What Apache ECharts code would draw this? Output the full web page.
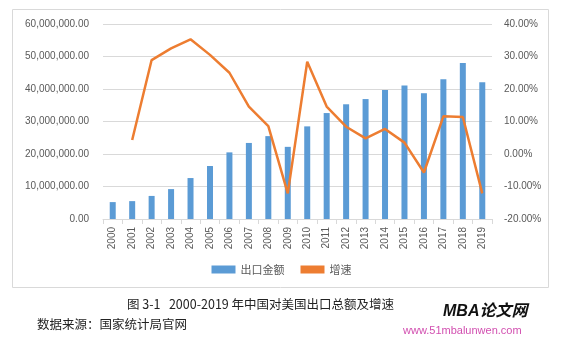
<!DOCTYPE html>
<html><head><meta charset="utf-8">
<script src="https://cdn.jsdelivr.net/npm/echarts@6/dist/echarts.min.js"></script>
<style>html,body{margin:0;padding:0;background:#fff}#c{width:563px;height:342px}</style>
</head><body><div id="c"></div>
<script>
const years = ['2000','2001','2002','2003','2004','2005','2006','2007','2008','2009','2010','2011','2012','2013','2014','2015','2016','2017','2018','2019'];
const exportAmount = [5.2e6,5.5e6,7.1e6,9.2e6,12.6e6,16.3e6,20.5e6,23.4e6,25.5e6,22.2e6,28.5e6,32.6e6,35.3e6,36.9e6,39.7e6,41.1e6,38.7e6,43.0e6,48.0e6,42.1e6];
const growthRate = [null,4.3,28.9,32.5,35.3,30.5,25.0,14.6,8.6,-12.1,28.4,14.6,8.4,4.8,7.7,3.5,-5.7,11.6,11.4,-12.1];
const seriesNames = ['出口金额','增速'];
const caption = '图 3-1   2000-2019 年中国对美国出口总额及增速';
const source = '数据来源：国家统计局官网';

const chart = echarts.init(document.getElementById('c'));
const fmtNum = v => v.toLocaleString('en-US',{minimumFractionDigits:2,maximumFractionDigits:2});
const axisTxt = {color:'#595959',fontSize:10,fontFamily:'Arial, Liberation Sans, sans-serif'};
chart.setOption({
  animation:false,
  grid:{left:103,right:71,top:24,bottom:123},
  legend:{
    bottom:62,left:'center',itemGap:16,itemWidth:24,itemHeight:8,
    textStyle:{color:'#595959',fontSize:11,fontFamily:'Noto Sans CJK SC'},
    data:[{name:seriesNames[0],icon:'rect'},{name:seriesNames[1],icon:'rect',itemStyle:{color:'#ED7D31'}}]
  },
  xAxis:{type:'category',data:years,
    axisLine:{lineStyle:{color:'#d9d9d9'}},
    axisTick:{show:true,lineStyle:{color:'#d9d9d9'},length:5},
    axisLabel:Object.assign({rotate:90,margin:8},axisTxt)},
  yAxis:[
    {type:'value',min:0,max:60e6,interval:10e6,
     axisLabel:Object.assign({formatter:fmtNum,margin:14},axisTxt),
     splitLine:{lineStyle:{color:'#d9d9d9',width:1}},axisLine:{show:false},axisTick:{show:false}},
    {type:'value',min:-20,max:40,interval:10,
     axisLabel:Object.assign({formatter:v=>v.toFixed(2)+'%',margin:12},axisTxt),
     splitLine:{show:false},axisLine:{show:false},axisTick:{show:false}}
  ],
  series:[
    {name:seriesNames[0],type:'bar',data:exportAmount,barWidth:6,itemStyle:{color:'#5B9BD5'}},
    {name:seriesNames[1],type:'line',yAxisIndex:1,data:growthRate,symbol:'none',
     lineStyle:{color:'#ED7D31',width:2.5},itemStyle:{color:'#ED7D31'},connectNulls:false}
  ],
  graphic:[
    {type:'rect',shape:{x:12.5,y:9.5,width:536,height:278},style:{fill:'none',stroke:'#d9d9d9',lineWidth:1},z:-1},
    {type:'text',left:127,top:298,style:{text:caption,fill:'#222',font:'12.5px "Noto Sans CJK SC"'}},
    {type:'text',left:37,top:318,style:{text:source,fill:'#222',font:'12.5px "Noto Sans CJK SC"'}},
    {type:'text',left:443,top:304,style:{text:'MBA论文网',fill:'#111',font:'italic bold 16px "Liberation Sans", "Noto Sans CJK SC"'}},
    {type:'text',left:403,top:325,style:{text:'www.51mbalunwen.com',fill:'#d24fb0',font:'11px "Liberation Sans"'}}
  ]
});
</script></body></html>
